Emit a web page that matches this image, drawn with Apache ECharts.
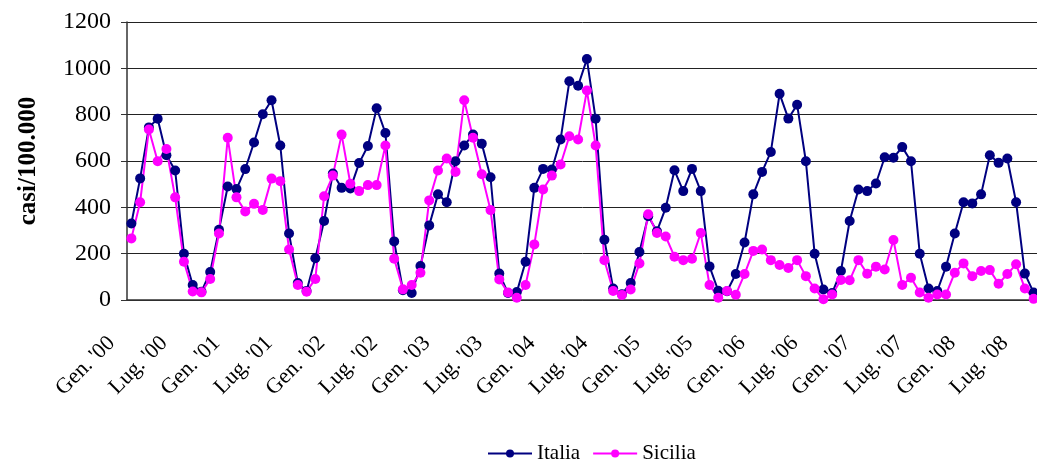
<!DOCTYPE html>
<html>
<head>
<meta charset="utf-8">
<script src="https://cdn.jsdelivr.net/npm/echarts@6/dist/echarts.min.js"></script>
<style>
  html, body { margin: 0; padding: 0; background: #fff; }
  #chart { width: 1037px; height: 462px; }
</style>
</head>
<body>
<div id="chart"></div>
<script>
// Monthly incidence (cases per 100.000), January 2000 – August 2008
const monthNames = ['Gen.', 'Feb.', 'Mar.', 'Apr.', 'Mag.', 'Giu.', 'Lug.', 'Ago.', 'Set.', 'Ott.', 'Nov.', 'Dic.'];
const yearLabels = ['00', '01', '02', '03', '04', '05', '06', '07', '08'];
const monthCount = 104;

const italia = [
  330, 525, 745, 782, 625, 559, 200, 65, 36, 121, 303, 490,
  479, 565, 680, 802, 862, 667, 287, 73, 39, 180, 341, 546,
  484, 481, 591, 665, 828, 721, 253, 42, 30, 147, 322, 456,
  422, 599, 667, 714, 675, 530, 114, 30, 34, 165, 484, 566,
  563, 693, 944, 925, 1040, 782, 260, 50, 25, 73, 207, 362,
  297, 398, 560, 470, 566, 470, 145, 40, 38, 112, 248, 456,
  553, 639, 890, 783, 843, 599, 200, 45, 30, 125, 341, 477,
  470, 503, 616, 614, 660, 599, 200, 50, 39, 144, 287, 422,
  417, 456, 625, 592, 611, 422, 114, 32
];

const sicilia = [
  266, 422, 736, 599, 652, 443, 165, 37, 33, 91, 287, 700,
  443, 382, 415, 389, 524, 513, 218, 65, 36, 91, 448, 537,
  714, 502, 470, 496, 496, 667, 178, 46, 65, 118, 430, 559,
  611, 553, 862, 700, 543, 388, 89, 32, 10, 65, 240, 477,
  537, 585, 707, 693, 904, 667, 172, 39, 22, 45, 158, 370,
  289, 274, 187, 172, 178, 289, 65, 10, 39, 23, 112, 212,
  218, 172, 151, 138, 172, 103, 50, 3, 24, 86, 85, 172,
  113, 144, 132, 259, 65, 96, 32, 10, 24, 24, 118, 158,
  103, 125, 129, 70, 112, 154, 50, 5
];

const yTicks = { min: 0, max: 1200, step: 200 };

// "Gen. '00", "Feb. '00", ...
const categories = [];
for (let i = 0; i < monthCount; i++) {
  categories.push(monthNames[i % 12] + " '" + yearLabels[Math.floor(i / 12)]);
}

const font = 'Liberation Serif, Times New Roman, serif';
const chart = echarts.init(document.getElementById('chart'), null, { renderer: 'canvas' });

chart.setOption({
  backgroundColor: '#ffffff',
  animation: false,
  textStyle: { fontFamily: font, color: '#000' },
  grid: { left: 127, right: -1, top: 22, bottom: 162, outerBoundsMode: 'none' },
  legend: {
    top: 438,
    left: 482,
    itemWidth: 44,
    itemHeight: 10,
    itemGap: 12,
    textStyle: { fontFamily: font, fontSize: 21, color: '#000' },
    data: ['Italia', 'Sicilia']
  },
  xAxis: {
    type: 'category',
    data: categories,
    boundaryGap: true,
    axisLine: { lineStyle: { color: '#333', width: 1.5 } },
    axisTick: { interval: 0, length: 7, lineStyle: { color: '#333', width: 1 } },
    axisLabel: {
      interval: 5,
      rotate: 45,
      margin: 20,
      padding: [0, 28, 0, 0],
      fontFamily: font,
      fontSize: 22,
      color: '#000'
    },
    splitLine: { show: false }
  },
  yAxis: {
    type: 'value',
    min: yTicks.min,
    max: yTicks.max,
    interval: yTicks.step,
    name: 'casi/100.000',
    nameLocation: 'middle',
    nameGap: 86,
    nameRotate: 90,
    nameTextStyle: { fontFamily: font, fontSize: 25, fontWeight: 'bold', color: '#000' },
    axisLine: { show: true, lineStyle: { color: '#333', width: 1.5 } },
    axisTick: { show: true, length: 6, lineStyle: { color: '#333' } },
    axisLabel: {
      margin: 16,
      fontFamily: font,
      fontSize: 24,
      color: '#000',
      formatter: (v) => String(v)
    },
    splitLine: { lineStyle: { color: '#222', width: 1 } }
  },
  series: [
    {
      name: 'Italia',
      type: 'line',
      data: italia,
      symbol: 'circle',
      symbolSize: 10,
      showAllSymbol: true,
      color: '#000080',
      lineStyle: { width: 2, color: '#000080' },
      itemStyle: { color: '#000080' }
    },
    {
      name: 'Sicilia',
      type: 'line',
      data: sicilia,
      symbol: 'circle',
      symbolSize: 10,
      showAllSymbol: true,
      color: '#ff00ff',
      lineStyle: { width: 2, color: '#ff00ff' },
      itemStyle: { color: '#ff00ff' }
    }
  ]
});
</script>
</body>
</html>
